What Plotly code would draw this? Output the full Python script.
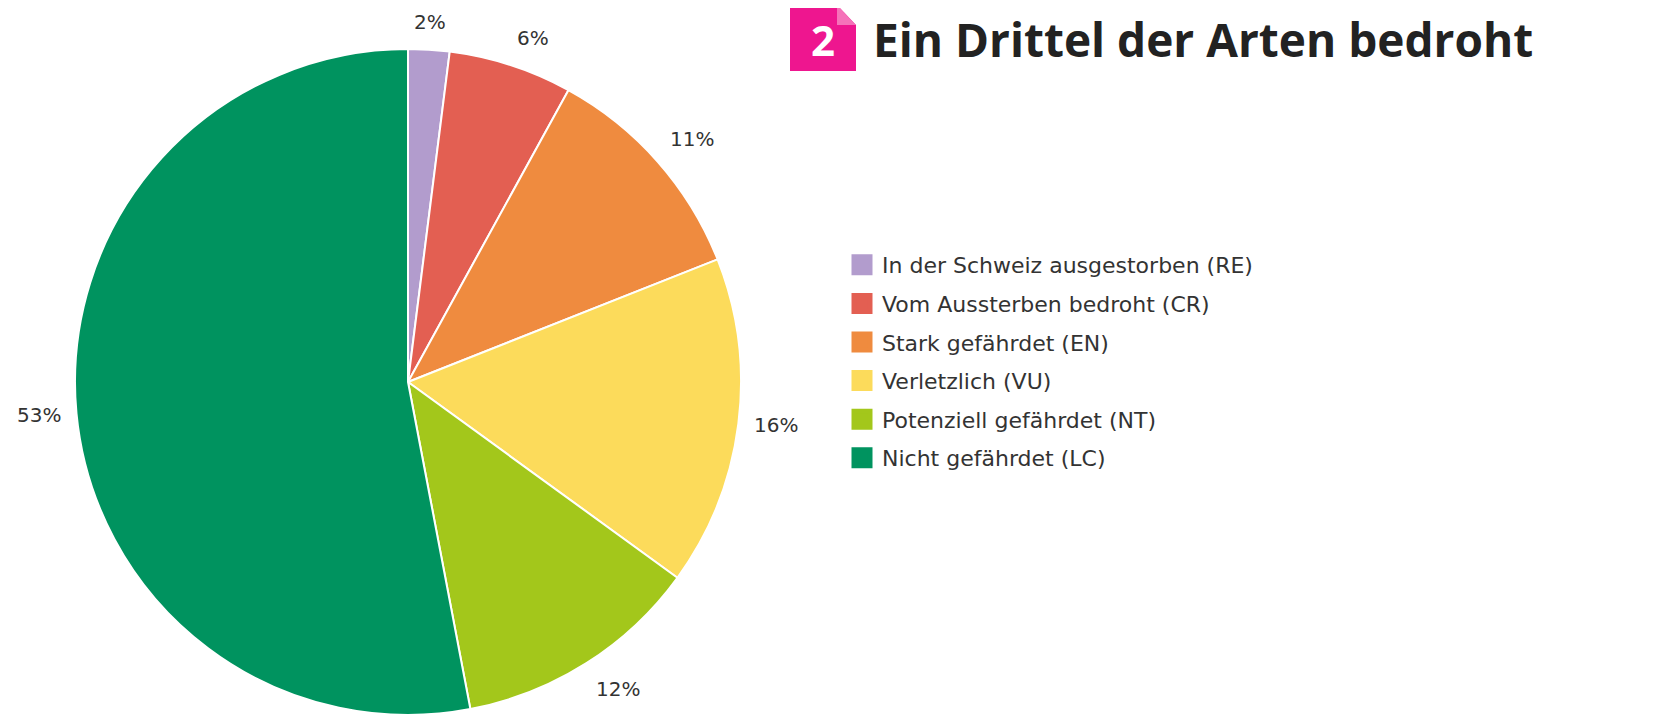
import math
import plotly.graph_objects as go

W, H = 1676, 714

categories = [
    "In der Schweiz ausgestorben (RE)",
    "Vom Aussterben bedroht (CR)",
    "Stark gefährdet (EN)",
    "Verletzlich (VU)",
    "Potenziell gefährdet (NT)",
    "Nicht gefährdet (LC)",
]
shares = [2, 6, 11, 16, 12, 53]
colors = ["#B29CCD", "#E35F52", "#EF8B3F", "#FCDB5B", "#A3C71B", "#00935F"]

title_text = "Ein Drittel der Arten bedroht"
badge_text = "2"

LABEL_FONT = "DejaVu Sans, Verdana, sans-serif"
TEXT_COLOR = "#333333"

# pie geometry in figure pixels (page has an 8px body margin)
CX, CY, R = 400, 374, 333
dom_x = [0, 2 * CX / W]
dom_y = [1 - (CY + R) / H, 1 - (CY - R) / H]

fig = go.Figure()

fig.add_trace(go.Pie(
    labels=categories,
    values=shares,
    marker=dict(colors=colors, line=dict(color="white", width=2)),
    sort=False,
    direction="clockwise",
    rotation=0,
    textinfo="none",
    showlegend=False,
    hoverinfo="label+value",
    domain=dict(x=dom_x, y=dom_y),
))

# percent labels outside the pie, anchored on each slice's mid-angle
total = sum(shares)
cum = 0
LABEL_R = R + 14
for v in shares:
    mid = (cum + v / 2) / total * 2 * math.pi
    cum += v
    s, c = math.sin(mid), math.cos(mid)
    px = CX + LABEL_R * s
    py = CY - LABEL_R * c
    xa = "left" if s > 0.3 else ("right" if s < -0.3 else "center")
    ya = "bottom" if c > 0.5 else ("top" if c < -0.5 else "middle")
    fig.add_annotation(text=f"{v}%", xref="paper", yref="paper",
                       x=px / W, y=1 - py / H, xanchor=xa, yanchor=ya,
                       showarrow=False,
                       font=dict(family=LABEL_FONT, size=20, color=TEXT_COLOR))

# legend entries
for cat, col in zip(categories, colors):
    fig.add_trace(go.Scatter(
        x=[None], y=[None], mode="markers", name=cat,
        legendgroup=cat,
        marker=dict(symbol="square", size=16, color=col,
                    line=dict(color=col, width=5)),
        showlegend=True,
    ))

# badge
fig.add_shape(type="rect", xref="paper", yref="paper",
              x0=782 / W, x1=848 / W, y0=1 - 63 / H, y1=1 + 3 / H,
              fillcolor="#EE168F", line=dict(width=0), layer="above")
fig.add_shape(type="path", xref="paper", yref="paper",
              path=f"M {829/W} {1+3/H} L {848/W} {1+3/H} L {848/W} {1-17/H} Z",
              fillcolor="white", line=dict(width=0), layer="above")
fig.add_shape(type="path", xref="paper", yref="paper",
              path=f"M {829/W} {1+3/H} L {848/W} {1-17/H} L {829/W} {1-17/H} Z",
              fillcolor="#F572B9", line=dict(width=0), layer="above")

fig.add_annotation(text=f"<b>{badge_text}</b>", xref="paper", yref="paper",
                   x=815 / W, y=1 - 32 / H, xanchor="center", yanchor="middle",
                   showarrow=False,
                   font=dict(family="Open Sans", size=42, color="white"))
fig.add_annotation(text=f"<b>{title_text}</b>", xref="paper", yref="paper",
                   x=863 / W, y=1 - 31 / H, xanchor="left", yanchor="middle",
                   showarrow=False,
                   font=dict(family="Open Sans", size=46, color="#222222"))

fig.update_layout(
    width=W, height=H,
    margin=dict(l=0, r=0, t=0, b=0),
    paper_bgcolor="white", plot_bgcolor="white",
    xaxis=dict(visible=False, domain=[0.99, 1]),
    yaxis=dict(visible=False),
    legend=dict(
        x=834 / W, y=1 - 236 / H, xanchor="left", yanchor="top",
        font=dict(family=LABEL_FONT, size=22, color=TEXT_COLOR),
        tracegroupgap=7, bgcolor="rgba(0,0,0,0)",
    ),
    showlegend=True,
)

fig.write_html("out.html")
